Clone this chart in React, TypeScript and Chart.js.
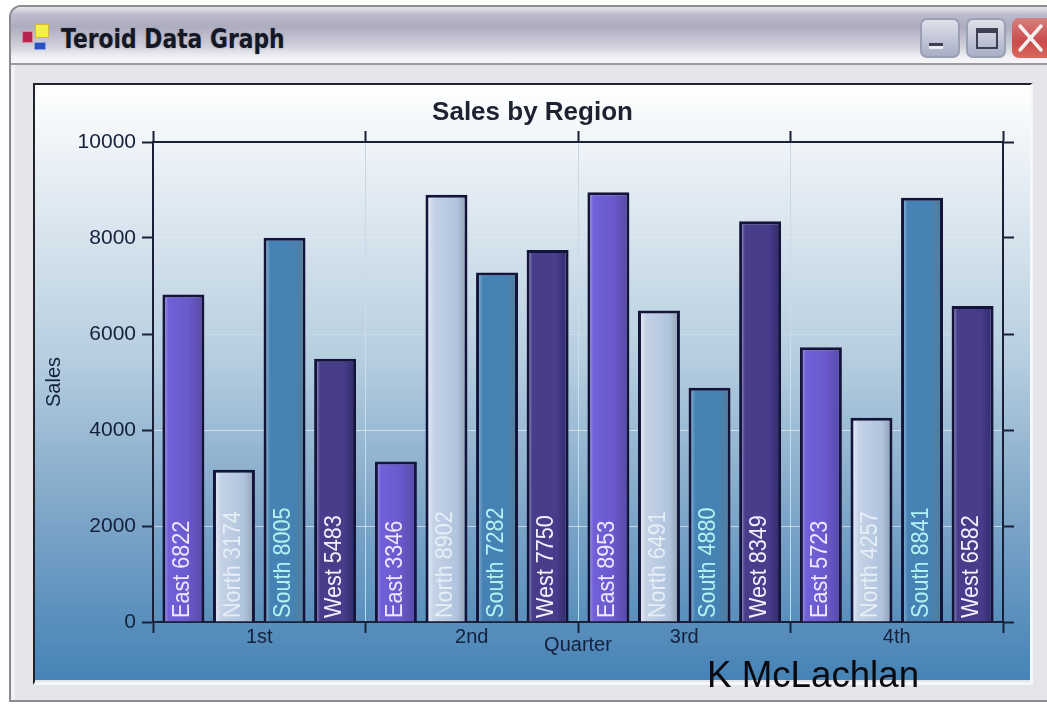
import React, { useEffect, useRef } from "react";
import { Chart, registerables } from "chart.js";

Chart.register(...registerables);

const quarters = ["1st", "2nd", "3rd", "4th"];
const east = [6822, 3346, 8953, 5723];
const north = [3174, 8902, 6491, 4257];
const south = [8005, 7282, 4880, 8841];
const west = [5483, 7750, 8349, 6582];
const seriesNames = ["East", "North", "South", "West"];
const seriesValues = [east, north, south, west];
const barStops = [
  [[0, "#b9b0ee"], [0.14, "#7160d8"], [0.6, "#6a5acd"], [1, "#5648a4"]],
  [[0, "#eef2fb"], [0.2, "#c4d2e6"], [0.75, "#b0c4de"], [1, "#8e9cac"]],
  [[0, "#a0c4e2"], [0.16, "#4682b4"], [0.7, "#4682b4"], [1, "#557d96"]],
  [[0, "#b4acd8"], [0.14, "#483d8b"], [0.7, "#483d8b"], [1, "#2f2868"]],
];
const labelColors = ["#ece8ff", "#e6eef6", "#b4f2f2", "#f2f0ff"];

const FONT = '"Liberation Sans", Arial, sans-serif';
const DARK = "#14203c";

const backgroundPlugin = {
  id: "panelBackground",
  beforeDraw(chart: any) {
    const { ctx, width, height } = chart;
    const g = ctx.createLinearGradient(0, 0, 0, height);
    g.addColorStop(0, "#ffffff");
    g.addColorStop(0.2, "#dfe9f1");
    g.addColorStop(0.45, "#b8cfe0");
    g.addColorStop(0.72, "#7ea6c8");
    g.addColorStop(1, "#4683b6");
    ctx.save();
    ctx.fillStyle = g;
    ctx.fillRect(0, 0, width, height);
    ctx.restore();
  },
};

const barGradientPlugin = {
  id: "barGradient",
  beforeDatasetDraw(chart: any, args: any) {
    const meta = chart.getDatasetMeta(args.index);
    meta.data.forEach((bar: any) => {
      const half = bar.width / 2;
      const g = chart.ctx.createLinearGradient(bar.x - half, 0, bar.x + half, 0);
      barStops[args.index].forEach(([p, c]: any) => g.addColorStop(p, c));
      bar.options = { ...bar.options, backgroundColor: g };
    });
  },
};

const barLabelPlugin = {
  id: "barLabels",
  afterDatasetsDraw(chart: any) {
    const { ctx, chartArea } = chart;
    chart.data.datasets.forEach((ds: any, i: number) => {
      chart.getDatasetMeta(i).data.forEach((bar: any, j: number) => {
        ctx.save();
        ctx.translate(bar.x - 2, chartArea.bottom - 4);
        ctx.rotate(-Math.PI / 2);
        ctx.scale(0.9, 1);
        ctx.font = `24px ${FONT}`;
        ctx.textAlign = "left";
        ctx.textBaseline = "middle";
        ctx.fillStyle = labelColors[i];
        ctx.fillText(`${ds.label} ${ds.data[j]}`, 0, 1);
        ctx.restore();
      });
    });
  },
};

function ChartPanel() {
  const ref = useRef<HTMLCanvasElement>(null);
  useEffect(() => {
    const grid = { tickLength: 11, tickColor: "#1a2038", tickWidth: 2, lineWidth: 1 };
    const border = { color: "#1a2038", width: 2 };
    const chart = new Chart(ref.current!, {
      type: "bar",
      data: {
        labels: quarters,
        datasets: seriesNames.map((name, i) => ({
          label: name,
          data: seriesValues[i],
          backgroundColor: "#6a5acd",
          borderColor: "#14143a",
          borderWidth: 3,
          categoryPercentage: 0.952,
          barPercentage: 0.83,
        })),
      },
      options: {
        animation: false,
        responsive: false,
        devicePixelRatio: 1,
        layout: { padding: 0 },
        plugins: {
          legend: { display: false },
          tooltip: { enabled: false },
          title: {
            display: true,
            text: "Sales by Region",
            color: "#1c2230",
            font: { family: FONT, size: 26, weight: "bold" },
            padding: { top: 12, bottom: 0 },
          },
        },
        scales: {
          x: {
            type: "category",
            position: "bottom",
            offset: true,
            grid: {
              ...grid,
              offset: true,
              color: (c: any) => {
                const g = c.chart.ctx.createLinearGradient(0, 57, 0, 537);
                g.addColorStop(0, "rgba(190,200,210,0.7)");
                g.addColorStop(0.5, "rgba(215,232,244,0.7)");
                g.addColorStop(1, "rgba(185,228,248,0.95)");
                return g;
              },
            },
            border,
            ticks: { color: DARK, padding: -8, maxRotation: 0, font: { family: FONT, size: 20 } },
            title: {
              display: true,
              text: "Quarter",
              color: DARK,
              font: { family: FONT, size: 20 },
              padding: { top: -2, bottom: 23 },
            },
            afterFit: (s: any) => { s.height = 58; },
          },
          x2: {
            type: "category",
            position: "top",
            offset: true,
            labels: quarters,
            grid: { ...grid, offset: true, drawOnChartArea: false },
            border,
            ticks: { display: false },
            afterFit: (s: any) => { s.height = 13.8; },
          },
          y: {
            position: "left",
            min: 0,
            max: 10000,
            grid: {
              ...grid,
              color: (c: any) => (c.tick.value >= 6000 ? "rgba(255,255,255,0.18)" : "rgba(255,255,255,0.55)"),
            },
            border,
            ticks: {
              stepSize: 2000,
              color: DARK,
              padding: 6,
              font: { family: FONT, size: 21 },
              callback: (v: any) => String(v),
            },
            title: {
              display: true,
              text: "Sales",
              color: DARK,
              font: { family: FONT, size: 20 },
              padding: { top: 7, bottom: 0 },
            },
            afterFit: (s: any) => { s.width = 118; },
          },
          y2: {
            position: "right",
            min: 0,
            max: 10000,
            grid: { ...grid, drawOnChartArea: false },
            border,
            ticks: { display: false, stepSize: 2000 },
            afterFit: (s: any) => { s.width = 27; },
          },
        },
      },
      plugins: [backgroundPlugin, barGradientPlugin, barLabelPlugin],
    } as any);
    return () => chart.destroy();
  }, []);
  return (
    <canvas
      ref={ref}
      width={995}
      height={595}
      style={{ position: "absolute", left: 35, top: 85, width: 995, height: 595, display: "block", filter: "blur(0.45px)" }}
    />
  );
}

const box = (s: React.CSSProperties): React.CSSProperties => ({ position: "absolute", ...s });

export default function App() {
  return (
    <div style={box({ position: "fixed", left: 0, top: 0, width: 1047, height: 704, background: "#fff", overflow: "hidden" })}>
      {/* window frame */}
      <div
        style={box({
          left: 9, top: 5, width: 1060, height: 697,
          background: "#e4e4ea",
          border: "2px solid #8c8c90",
          borderRadius: "12px 12px 0 0",
          boxSizing: "border-box",
        })}
      />
      {/* title bar */}
      <div
        style={box({
          left: 11, top: 7, width: 1050, height: 56,
          borderRadius: "10px 10px 0 0",
          background: "linear-gradient(180deg,#e6e6ee 0%,#bcbbcc 14%,#aeadc0 35%,#d0d0dc 70%,#f2f2f6 90%,#f6f6f8 100%)",
          borderBottom: "2px solid #9a9aa0",
        })}
      />
      <div style={box({ left: 11, top: 65, width: 4, height: 635, background: "#f2f2f4" })} />
      {/* title icon */}
      <div style={box({ left: 22, top: 31, width: 11, height: 12, background: "#b82450", border: "1px solid #d88aa0", boxSizing: "border-box" })} />
      <div style={box({ left: 35, top: 24, width: 14, height: 14, background: "#f4f04a", border: "1px solid #d8b838", boxSizing: "border-box" })} />
      <div style={box({ left: 34, top: 42, width: 12, height: 8, background: "#2c50c0", border: "1px solid #88a4e0", boxSizing: "border-box" })} />
      <div
        style={box({
          left: 61, top: 21, height: 36, lineHeight: "36px",
          fontFamily: '"DejaVu Sans", sans-serif', fontWeight: 700, fontSize: 26,
          color: "#141824", whiteSpace: "nowrap",
          transform: "scaleX(0.84)", transformOrigin: "left center",
          textShadow: "0 0 2px rgba(90,90,110,0.5)",
        })}
      >
        Teroid Data Graph
      </div>
      {/* window buttons */}
      <div style={box({ left: 920, top: 18, width: 40, height: 40, borderRadius: 7, boxSizing: "border-box", border: "2px solid #9aa0b4", background: "linear-gradient(180deg,#dfe1ea,#a9aec6)" })}>
        <div style={box({ left: 7, top: 23, width: 14, height: 6, background: "#e8ecf4", borderTop: "3px solid #3c4050", boxSizing: "border-box" })} />
      </div>
      <div style={box({ left: 966, top: 18, width: 40, height: 40, borderRadius: 7, boxSizing: "border-box", border: "2px solid #9aa0b4", background: "linear-gradient(180deg,#dfe1ea,#a9aec6)" })}>
        <div style={box({ left: 8, top: 8, width: 22, height: 21, border: "2px solid #3c4050", borderTopWidth: 5, boxSizing: "border-box" })} />
      </div>
      <div style={box({ left: 1012, top: 18, width: 50, height: 40, borderRadius: 7, overflow: "hidden", background: "linear-gradient(180deg,#d88080,#cc4a4a 60%,#d86a60)" })}>
        <svg width="50" height="40" style={{ display: "block" }}>
          <path d="M8 8 L29 32 M29 8 L8 32" stroke="#f4f0ee" strokeWidth="3.5" strokeLinecap="round" />
        </svg>
      </div>
      {/* chart panel edges */}
      <div style={box({ left: 33, top: 83, width: 1000, height: 602, boxSizing: "border-box", borderTop: "2px solid #22242c", borderLeft: "2px solid #22242c", borderRight: "3px solid #f6f8fa", borderBottom: "3px solid #f2f8fc" })} />
      <ChartPanel />
      <div
        style={box({
          left: 707, top: 654, height: 42, lineHeight: "42px",
          fontFamily: FONT, fontSize: 36.7, color: "#0a0a0e", whiteSpace: "nowrap",
        })}
      >
        K McLachlan
      </div>
    </div>
  );
}
